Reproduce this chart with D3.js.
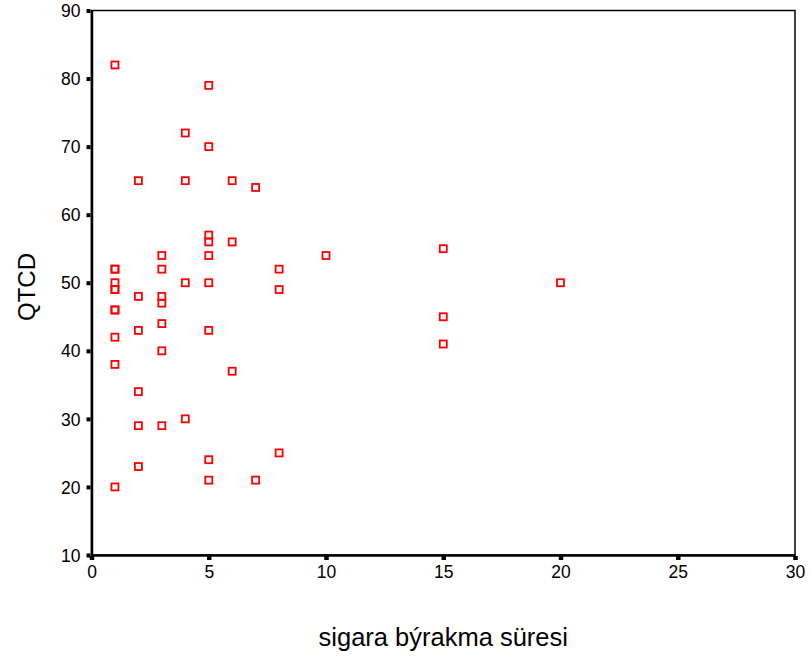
<!DOCTYPE html>
<html>
<head>
<meta charset="utf-8">
<script src="https://cdn.jsdelivr.net/npm/d3@7"></script>
<style>
  html, body { margin: 0; padding: 0; background: #fff; }
  svg { display: block; }
  text { font-family: "Liberation Sans", Arial, sans-serif; fill: #000; }
</style>
</head>
<body>
<svg id="chart" width="810" height="657"></svg>
<script>
// Data
const xValues = [1, 5, 4, 5, 2, 4, 6, 7, 5, 5, 6, 3, 5, 10, 15,
                 1, 1, 3, 8, 1, 4, 5, 20, 1, 1, 8, 2, 3, 3, 1, 1,
                 15, 3, 2, 5, 1, 3, 15, 1, 6, 2, 4, 2, 3, 8, 5, 2, 5, 7, 1];
const yValues = [82, 79, 72, 70, 65, 65, 65, 64, 57, 56, 56, 54, 54, 54, 55,
                 52, 52, 52, 52, 50, 50, 50, 50, 49, 49, 49, 48, 48, 47, 46, 46,
                 45, 44, 43, 43, 42, 40, 41, 38, 37, 34, 30, 29, 29, 25, 24, 23, 21, 21, 20];
const xTicks = [0, 5, 10, 15, 20, 25, 30];
const yTicks = [10, 20, 30, 40, 50, 60, 70, 80, 90];
const xTitle = "sigara býrakma süresi";
const yTitle = "QTCD";

const svg = d3.select("#chart");
const pLeft = 91.5, pRight = 795, pTop = 10.5, pBottom = 555;

const x = d3.scaleLinear().domain([0, 30]).range([pLeft, pRight]);
const y = d3.scaleLinear().domain([10, 90]).range([pBottom, pTop]);

// Frame (top & right)
svg.append("rect")
  .attr("x", pLeft).attr("y", pTop)
  .attr("width", pRight - pLeft).attr("height", pBottom - pTop)
  .attr("fill", "none").attr("stroke", "#000").attr("stroke-width", 1.5);

// X axis
const gx = svg.append("g").attr("transform", `translate(0,${pBottom})`)
  .call(d3.axisBottom(x).tickValues(xTicks).tickSizeInner(5).tickSizeOuter(0).tickPadding(5));
gx.select(".domain").attr("stroke", "#000").attr("stroke-width", 2.5);
gx.selectAll(".tick line").attr("stroke", "#000").attr("stroke-width", 4.5).attr("y1", 1);
gx.selectAll(".tick text").style("font-size", "17.5px").attr("dy", "0.75em");

// Y axis
const gy = svg.append("g").attr("transform", `translate(${pLeft},0)`)
  .call(d3.axisLeft(y).tickValues(yTicks).tickSizeInner(5).tickSizeOuter(0).tickPadding(6));
gy.select(".domain").attr("stroke", "#000").attr("stroke-width", 2.5);
gy.selectAll(".tick line").attr("stroke", "#000").attr("stroke-width", 4).attr("x1", -1);
gy.selectAll(".tick text").style("font-size", "17.5px").attr("dy", "0.35em");

// Points
const pts = xValues.map((v, i) => ({x: v, y: yValues[i]}));
svg.append("g").selectAll("rect")
  .data(pts).join("rect")
  .attr("x", d => x(d.x) - 3.5)
  .attr("y", d => y(d.y) - 3.5)
  .attr("width", 7).attr("height", 7)
  .attr("fill", "none")
  .attr("stroke", "#ff0000")
  .attr("stroke-width", 1.8);

// Axis titles
svg.append("text")
  .attr("x", (pLeft + pRight) / 2).attr("y", 646)
  .attr("text-anchor", "middle")
  .style("font-size", "25.5px")
  .text(xTitle);

svg.append("text")
  .attr("transform", `translate(35,287) rotate(-90)`)
  .attr("text-anchor", "middle")
  .style("font-size", "24px")
  .text(yTitle);
</script>
</body>
</html>
